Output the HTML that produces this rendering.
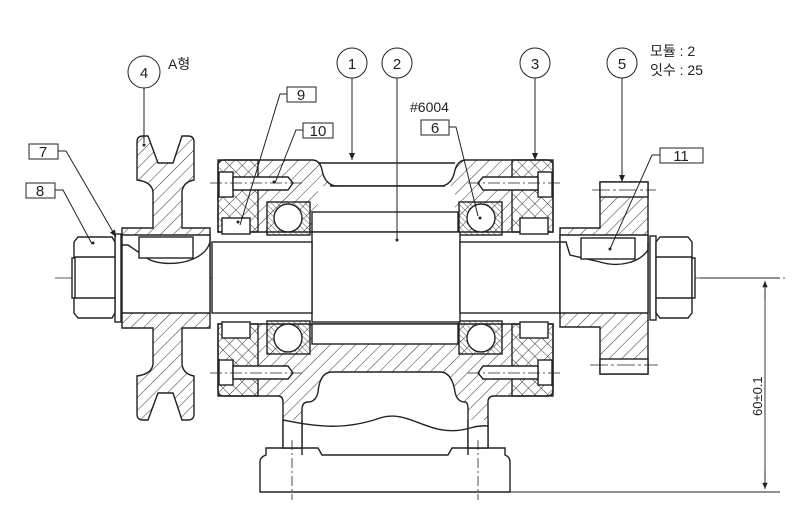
<!DOCTYPE html>
<html><head><meta charset="utf-8"><style>
html,body{margin:0;padding:0;background:#fff;}
svg{display:block;}
text{font-family:"Liberation Sans","Noto Sans CJK KR",sans-serif;fill:#222;}
</style></head><body>
<svg width="800" height="520" viewBox="0 0 800 520" xmlns="http://www.w3.org/2000/svg">
<defs>
<pattern id="h" width="9" height="9" patternUnits="userSpaceOnUse" patternTransform="rotate(45)"><line x1="0" y1="0" x2="0" y2="9" stroke="#333" stroke-width="1"/></pattern>
<pattern id="h2" width="9" height="9" patternUnits="userSpaceOnUse" patternTransform="rotate(-45)"><line x1="0" y1="0" x2="0" y2="9" stroke="#333" stroke-width="1"/></pattern>
<pattern id="h3" width="4" height="4" patternUnits="userSpaceOnUse" patternTransform="rotate(-45)"><line x1="0" y1="0" x2="0" y2="4" stroke="#333" stroke-width="0.8"/></pattern>
<marker id="a" markerWidth="8" markerHeight="8" refX="7" refY="4" orient="auto"><path d="M0,1 L7,4 L0,7 z" fill="#222"/></marker>
</defs>
<g stroke="#222" stroke-width="1.4" fill="none">
<line x1="55" y1="278" x2="785" y2="278" stroke-width="0.8" stroke-dasharray="24,4,3,4"/>

<!-- housing upper -->
<path d="M218,166 Q218,160 224,160 L312,160 Q320,160 322,170 Q325,186 338,186 L440,186 Q452,186 455,170 Q458,160 466,160 L547,160 Q553,160 553,166 L553,232 L218,232 Z" fill="url(#h)"/>
<path d="M318,163 L455,163" />
<rect x="318" y="186" width="137" height="26" fill="#fff" stroke="none"/>
<path d="M330,186 L445,186" />
<rect x="312" y="212" width="146" height="20" fill="#fff" stroke="#222"/>
<rect x="218" y="160" width="40" height="72" fill="url(#h2)"/>
<rect x="512" y="160" width="41" height="72" fill="url(#h2)"/>
<!-- housing lower -->
<path d="M218,390 Q218,396 224,396 L278,396 Q283,396 283,402 L283,448 L302,448 L302,410 Q302,402 308,402 Q316,402 318,392 Q320,372 332,372 L440,372 Q452,372 455,392 Q457,402 465,402 Q468,402 468,410 L468,448 L488,448 L488,402 Q488,396 494,396 L547,396 Q553,396 553,390 L553,324 L218,324 Z" fill="url(#h)"/>
<rect x="312" y="324" width="146" height="20" fill="#fff" stroke="#222"/>
<rect x="218" y="324" width="40" height="72" fill="url(#h2)"/>
<rect x="512" y="324" width="41" height="72" fill="url(#h2)"/>
<path d="M283,420 L302,420 L302,448 L283,448 Z" fill="#fff" stroke="none"/>
<path d="M468,420 L488,420 L488,448 L468,448 Z" fill="#fff" stroke="none"/>
<path d="M283,420 C310,425 340,432 380,418 C410,408 430,440 470,428 C480,425 488,426 488,426"/>
<line x1="283" y1="420" x2="283" y2="448"/><line x1="302" y1="420" x2="302" y2="455"/>
<line x1="468" y1="420" x2="468" y2="455"/><line x1="488" y1="420" x2="488" y2="448"/>
<path d="M266,448 L318,448 L322,455 L448,455 L452,448 L505,448 L505,455 Q510,457 510,462 L510,492 L260,492 L260,462 Q260,457 266,455 Z"/>
<line x1="292" y1="440" x2="292" y2="500" stroke-width="0.8" stroke-dasharray="10,3,2,3"/>
<line x1="478" y1="440" x2="478" y2="500" stroke-width="0.8" stroke-dasharray="10,3,2,3"/>

<g fill="url(#h3)">
<rect x="267" y="202" width="43" height="33"/><rect x="267" y="321" width="43" height="33"/>
<rect x="459" y="202" width="43" height="33"/><rect x="459" y="321" width="43" height="33"/>
</g>
<g fill="#fff">
<circle cx="288" cy="218" r="14"/><circle cx="288" cy="338" r="14"/>
<circle cx="481" cy="218" r="14"/><circle cx="481" cy="338" r="14"/>
</g>
<g fill="#fff">
<rect x="222" y="218" width="28" height="16"/><rect x="222" y="322" width="28" height="16"/>
<rect x="520" y="218" width="28" height="16"/><rect x="520" y="322" width="28" height="16"/>
</g>
<g fill="#fff">
<rect x="219" y="172" width="14" height="25"/><path d="M233,177 L288,177 L293,183 L288,190 L233,190 Z"/>
<rect x="219" y="360" width="14" height="25"/><path d="M233,366 L288,366 L293,373 L288,379 L233,379 Z"/>
<rect x="538" y="172" width="14" height="25"/><path d="M538,177 L483,177 L478,183 L483,190 L538,190 Z"/>
<rect x="538" y="360" width="14" height="25"/><path d="M538,366 L483,366 L478,373 L483,379 L538,379 Z"/>
</g>
<g stroke-width="0.8" stroke-dasharray="12,3,2,3">
<line x1="210" y1="183" x2="305" y2="183"/><line x1="210" y1="373" x2="305" y2="373"/>
<line x1="468" y1="183" x2="560" y2="183"/><line x1="468" y1="373" x2="560" y2="373"/>
</g>

<rect x="312" y="232" width="148" height="90" fill="#fff"/>
<rect x="212" y="242" width="100" height="71" fill="#fff"/>
<rect x="460" y="242" width="100" height="71" fill="#fff"/>

<!-- left pulley -->
<path d="M137,142 Q137,136 143,136 L148,136 L158,163 L173,163 L182,136 L188,136 Q194,136 194,142 L194,180 Q183,182 182,192 L182,228 L210,228 L210,328 L182,328 L182,364 Q183,374 194,376 L194,414 Q194,420 188,420 L182,420 L173,393 L158,393 L148,420 L143,420 Q137,420 137,414 L137,376 Q152,374 153,364 L153,328 L122,328 L122,228 L153,228 L153,192 Q152,182 137,180 Z" fill="url(#h)"/>
<rect x="122" y="242" width="88" height="71" fill="#fff" stroke="none"/>
<path d="M122,235 L210,235 L210,242 C205,262 170,268 150,260 L128,245 L122,245 Z" fill="#fff" stroke="#222"/>
<rect x="139" y="237" width="54" height="21" fill="#fff"/>
<line x1="122" y1="245" x2="122" y2="313"/><line x1="210" y1="242" x2="210" y2="313"/>
<line x1="122" y1="313" x2="210" y2="313"/>
<rect x="115" y="234" width="6" height="88" fill="#fff"/>
<path d="M78,237 L112,237 L115,242 L115,313 L112,318 L78,318 L74,313 L74,242 Z" fill="#fff"/>
<line x1="74" y1="257" x2="115" y2="257"/><line x1="74" y1="298" x2="115" y2="298"/>
<rect x="72" y="258" width="3" height="40" fill="#fff"/>

<!-- right gear -->
<path d="M600,182 L648,182 L648,374 L600,374 L600,327 L560,327 L560,228 L600,228 Z" fill="url(#h)"/>
<rect x="600" y="182" width="48" height="15" fill="#fff"/>
<rect x="600" y="359" width="48" height="15" fill="#fff"/>
<rect x="560" y="242" width="88" height="71" fill="#fff" stroke="none"/>
<path d="M560,235 L648,235 L648,250 C640,262 620,268 600,262 L570,255 L566,242 L560,242 Z" fill="#fff" stroke="#222"/>
<rect x="581" y="238" width="54" height="21" fill="#fff"/>
<line x1="560" y1="242" x2="560" y2="313"/><line x1="560" y1="313" x2="648" y2="313"/>
<line x1="648" y1="242" x2="648" y2="313"/>
<g stroke-width="0.8" stroke-dasharray="18,3,3,3"><line x1="592" y1="190" x2="656" y2="190"/><line x1="590" y1="365" x2="658" y2="365"/></g>
<rect x="650" y="236" width="6" height="84" fill="#fff"/>
<path d="M660,237 L688,237 L692,242 L692,313 L688,318 L660,318 L656,313 L656,242 Z" fill="#fff"/>
<line x1="656" y1="257" x2="692" y2="257"/><line x1="656" y1="298" x2="692" y2="298"/>
<rect x="692" y="258" width="3" height="40" fill="#fff"/>

<g stroke-width="0.9">
<line x1="700" y1="278" x2="780" y2="278"/>
<line x1="510" y1="492" x2="780" y2="492"/>
<line x1="765" y1="300" x2="765" y2="281" marker-end="url(#a)"/>
<line x1="765" y1="470" x2="765" y2="489" marker-end="url(#a)"/>
<line x1="765" y1="290" x2="765" y2="480"/>
</g>

<g stroke-width="1">
<circle cx="144" cy="72" r="16"/><circle cx="352" cy="63" r="15"/><circle cx="397" cy="63" r="15"/>
<circle cx="535" cy="63" r="15"/><circle cx="622" cy="63" r="15"/>
<line x1="144" y1="88" x2="144" y2="143"/>
<line x1="352" y1="78" x2="352" y2="160" marker-end="url(#a)"/>
<line x1="397" y1="78" x2="397" y2="240"/>
<line x1="535" y1="78" x2="535" y2="160" marker-end="url(#a)"/>
<line x1="622" y1="78" x2="622" y2="182" marker-end="url(#a)"/>
<rect x="287" y="87" width="29" height="15"/>
<rect x="303" y="123" width="30" height="15"/>
<rect x="421" y="120" width="28" height="15"/>
<rect x="660" y="148" width="43" height="15"/>
<rect x="29" y="144" width="29" height="15"/>
<rect x="26" y="183" width="29" height="15"/>
<path d="M287,94 L280,94 L240,225"/>
<path d="M303,130 L296,130 L275,183"/>
<path d="M449,127 L456,127 L478,216"/>
<path d="M660,155 L652,155 L610,249"/>
<path d="M58,151 L66,151 L116,237" marker-end="url(#a)"/>
<path d="M55,190 L63,190 L92,244"/>
</g>
</g>
<g fill="#222">
<circle cx="144" cy="145" r="1.5"/><circle cx="397" cy="240" r="1.5"/><circle cx="480" cy="218" r="1.5"/><circle cx="610" cy="249" r="1.5"/><circle cx="93" cy="243" r="1.5"/><circle cx="274" cy="182" r="1.5"/><circle cx="238" cy="222" r="1.5"/>
</g>
<g font-size="15" text-anchor="middle">
<text x="144" y="78">4</text><text x="352" y="69">1</text><text x="397" y="69">2</text>
<text x="535" y="69">3</text><text x="622" y="69">5</text>
<text x="301" y="100">9</text><text x="318" y="136">10</text><text x="435" y="133">6</text>
<text x="681" y="161">11</text><text x="43" y="157">7</text><text x="40" y="196">8</text>
</g>
<text x="168" y="69" font-size="14">A형</text>
<text x="410" y="112" font-size="14">#6004</text>
<text x="650" y="56" font-size="14">모듈 : 2</text>
<text x="650" y="75" font-size="14">잇수 : 25</text>
<text x="0" y="0" font-size="13" transform="translate(762,416) rotate(-90)">60±0.1</text>
</svg>
</body></html>
